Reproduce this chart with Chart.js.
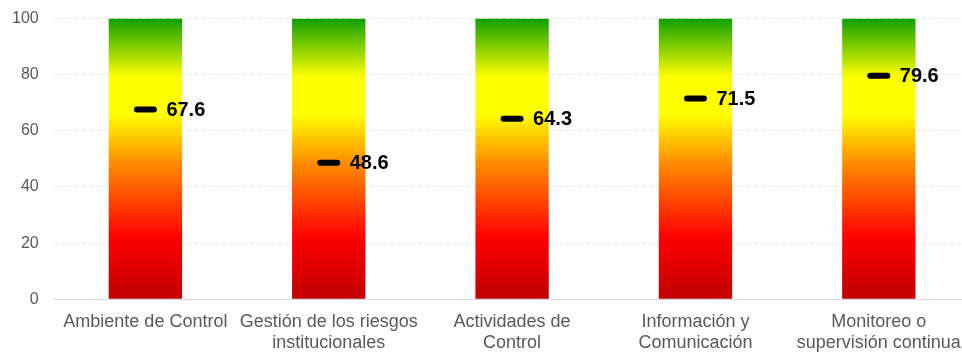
<!DOCTYPE html>
<html>
<head>
<meta charset="utf-8">
<script src="https://cdn.jsdelivr.net/npm/chart.js@4/dist/chart.umd.min.js"></script>
<style>
    html, body { margin: 0; padding: 0; background: #fff; overflow: hidden; }
    #chart { display: block; margin-left: -3px; margin-top: -6px; }
</style>
</head>
<body>
<canvas id="chart" width="988" height="363"></canvas>
<script>
// Categories (multi-line labels as arrays)
const categories = [
    "Ambiente de Control",
    ["Gestión de los riesgos", "institucionales"],
    ["Actividades de", "Control"],
    ["Información y", "Comunicación"],
    ["Monitoreo o", "supervisión continua"]
];
// Score of each component
const scores = [67.6, 48.6, 64.3, 71.5, 79.6];
// Full scale behind each score
const scaleMax = [100, 100, 100, 100, 100];
// Y axis ticks
const yTicks = [0, 20, 40, 60, 80, 100];

// Red -> yellow -> green vertical gradient for the scale bars
function barGradient(context) {
    const chart = context.chart;
    const area = chart.chartArea;
    if (!area) return "#ffff00";
    const g = chart.ctx.createLinearGradient(0, area.bottom, 0, area.top);
    g.addColorStop(0, "#c00000");
    g.addColorStop(0.22, "#ff0000");
    g.addColorStop(0.48, "#ff8a00");
    g.addColorStop(0.66, "#ffff00");
    g.addColorStop(0.79, "#ffff00");
    g.addColorStop(1, "#10a000");
    return g;
}

// Round caps for the marker dashes + value labels next to them
const markerPlugin = {
    id: "markerPlugin",
    beforeDatasetDraw(chart, args) {
        if (args.index === 1) chart.ctx.lineCap = "round";
    },
    afterDatasetDraw(chart, args) {
        if (args.index === 1) chart.ctx.lineCap = "butt";
    },
    afterDatasetsDraw(chart) {
        const ctx = chart.ctx;
        const meta = chart.getDatasetMeta(1);
        ctx.save();
        ctx.font = "bold 20px 'Liberation Sans', Arial, sans-serif";
        ctx.fillStyle = "#000";
        ctx.textAlign = "left";
        ctx.textBaseline = "middle";
        meta.data.forEach((pt, i) => {
            ctx.fillText(scores[i].toFixed(1), pt.x + 21, pt.y + 1);
        });
        ctx.restore();
    }
};

const ctx = document.getElementById("chart").getContext("2d");
new Chart(ctx, {
    type: "bar",
    data: {
        labels: categories,
        datasets: [
            {
                data: scaleMax,
                backgroundColor: barGradient,
                borderWidth: 0,
                categoryPercentage: 1,
                barPercentage: 0.4,
                order: 2
            },
            {
                type: "line",
                data: scores,
                showLine: false,
                pointStyle: "line",
                pointRadius: 8.5,
                pointHoverRadius: 8.5,
                pointBorderWidth: 6,
                pointHoverBorderWidth: 6,
                borderColor: "#000",
                backgroundColor: "#000",
                order: 1
            }
        ]
    },
    options: {
        responsive: false,
        animation: false,
        events: [],
        layout: { padding: { top: 3, left: 0, right: 7, bottom: 0 } },
        plugins: {
            legend: { display: false },
            tooltip: { enabled: false }
        },
        scales: {
            x: {
                offset: true,
                grid: { display: false },
                border: { display: true, color: "#d9d9d9", width: 1 },
                ticks: {
                    color: "#595959",
                    font: { family: "'Liberation Sans', Arial, sans-serif", size: 18, lineHeight: 1.16 },
                    maxRotation: 0,
                    autoSkip: false,
                    padding: 4
                }
            },
            y: {
                min: 0,
                max: 100,
                afterBuildTicks(axis) {
                    axis.ticks = yTicks.map(v => ({ value: v }));
                },
                grid: {
                    color: "#e4e4e4",
                    drawTicks: false
                },
                border: { display: false, dash: [4, 3] },
                ticks: {
                    color: "#595959",
                    font: { family: "'Liberation Sans', Arial, sans-serif", size: 16 },
                    padding: 15
                }
            }
        }
    },
    plugins: [markerPlugin]
});
</script>
</body>
</html>
